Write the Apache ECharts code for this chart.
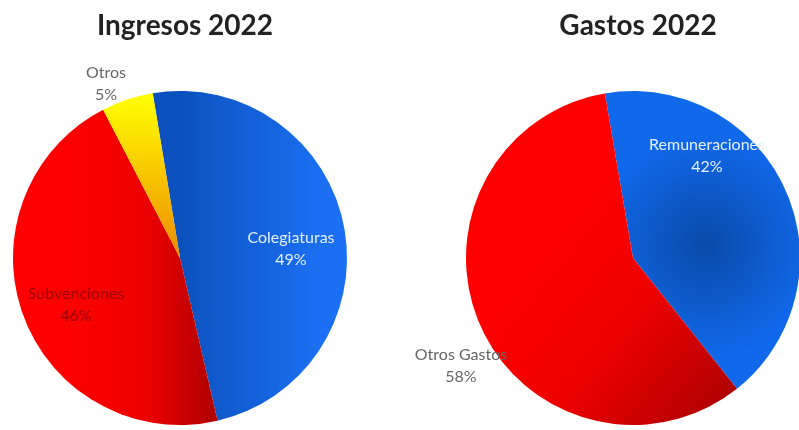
<!DOCTYPE html>
<html>
<head>
<meta charset="utf-8">
<script src="https://cdn.jsdelivr.net/npm/echarts@6/dist/echarts.min.js"></script>
<style>html,body{margin:0;padding:0;background:#fff}#c{width:799px;height:430px}</style>
</head>
<body>
<div id="c"></div>
<script>
var titles = ['Ingresos 2022', 'Gastos 2022'];
var ingresosCats = ['Colegiaturas', 'Subvenciones', 'Otros'];
var ingresosVals = [49, 46, 5];
var gastosCats = ['Remuneraciones', 'Otros Gastos'];
var gastosVals = [42, 58];

function lg(x, y, x2, y2, c0, c1) {
  return {type: 'linear', x: x, y: y, x2: x2, y2: y2, global: true,
    colorStops: [{offset: 0, color: c0}, {offset: 1, color: c1}]};
}
function rg(x, y, r, c0, c1) {
  return {type: 'radial', x: x, y: y, r: r, global: true,
    colorStops: [{offset: 0, color: c0}, {offset: 1, color: c1}]};
}

var ingresosColors = [
  lg(175, 0, 320, 0, '#0b50bc', '#1a6ff2'),
  {type: 'linear', x: 60, y: 0, x2: 215, y2: 0, global: true,
    colorStops: [{offset: 0, color: '#ff0000'}, {offset: 0.55, color: '#ee0000'}, {offset: 1, color: '#b00000'}]},
  lg(0, 95, 0, 250, '#ffff00', '#f09000')
];
var gastosColors = [
  rg(705, 245, 110, '#0a4aa8', '#1068ea'),
  {type: 'linear', x: 540, y: 230, x2: 735, y2: 390, global: true,
    colorStops: [{offset: 0, color: '#ff0000'}, {offset: 0.5, color: '#ee0000'}, {offset: 1, color: '#b00000'}]}
];

function mk(cats, vals, colors) {
  return cats.map(function (c, i) {
    return {name: c, value: vals[i], itemStyle: {color: colors[i]}};
  });
}

var labelFont = 'Lato, "Open Sans", sans-serif';
function txt(x, y, text, color) {
  return {type: 'text', x: x, y: y, z: 100, style: {text: text, fill: color, font: '16px ' + labelFont,
    align: 'center', verticalAlign: 'middle', lineHeight: 22}};
}

var chart = echarts.init(document.getElementById('c'));
chart.setOption({
  backgroundColor: '#fff',
  animation: false,
  title: [
    {text: titles[0], left: 180, top: 7, textAlign: 'center',
      textStyle: {fontFamily: labelFont, fontWeight: 'bold', fontSize: 28, color: '#222'}},
    {text: titles[1], left: 633, top: 7, textAlign: 'center',
      textStyle: {fontFamily: labelFont, fontWeight: 'bold', fontSize: 28, color: '#222'}}
  ],
  series: [
    {type: 'pie', center: [180, 258], radius: 167, startAngle: 99.4, clockwise: true,
      label: {show: false}, labelLine: {show: false}, emphasis: {disabled: true},
      data: mk(ingresosCats, ingresosVals, ingresosColors)},
    {type: 'pie', center: [633, 258], radius: 167, startAngle: 99.7, clockwise: true,
      label: {show: false}, labelLine: {show: false}, emphasis: {disabled: true},
      data: mk(gastosCats, gastosVals, gastosColors)}
  ],
  graphic: [
    txt(291, 249, ingresosCats[0] + '\n' + ingresosVals[0] + '%', '#e6efff'),
    txt(76, 305, ingresosCats[1] + '\n' + ingresosVals[1] + '%', '#9a0000'),
    txt(106, 84, ingresosCats[2] + '\n' + ingresosVals[2] + '%', '#666'),
    txt(707, 156, gastosCats[0] + '\n' + gastosVals[0] + '%', '#e6efff'),
    txt(461, 366, gastosCats[1] + '\n' + gastosVals[1] + '%', '#666')
  ]
});
</script>
</body>
</html>
